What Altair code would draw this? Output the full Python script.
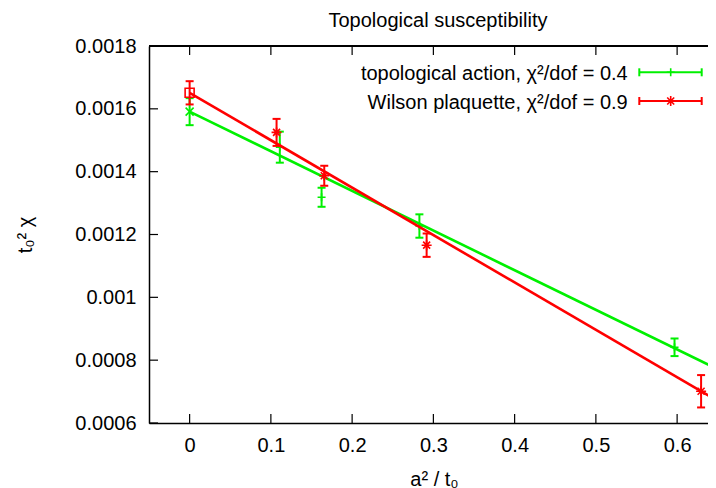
import altair as alt
import pandas as pd

FONT = "Liberation Sans"
GREEN = "#00f000"
RED = "#ff0000"

# ---- data ----
x_ticks = [0, 0.1, 0.2, 0.3, 0.4, 0.5, 0.6]
y_ticks = [0.0006, 0.0008, 0.001, 0.0012, 0.0014, 0.0016, 0.0018]

top_x = [0.111, 0.1624, 0.2828, 0.5968]
top_y = [0.001478, 0.0013185, 0.001227, 0.000841]
top_err = [0.0000494, 0.0000303, 0.0000372, 0.000028]

wil_x = [0.107, 0.1657, 0.2917, 0.6295]
wil_y = [0.001525, 0.001387, 0.001166, 0.000701]
wil_err = [0.000043, 0.0000318, 0.0000372, 0.0000515]

extrap_x = [0.0]
top_extrap_y = [0.001591]
top_extrap_err = [0.000043]
wil_extrap_y = [0.001651]
wil_extrap_err = [0.000037]

fit_x = [0.0, 0.65]
top_fit_y = [0.001591, 0.000771]
wil_fit_y = [0.001651, 0.000670]

title_text = ["Topological susceptibility"]
legend_labels = ["topological action, \u03c7\u00b2/dof = 0.4",
                 "Wilson plaquette, \u03c7\u00b2/dof = 0.9"]

# ---- tables ----
def err_table(xs, ys, es):
    return pd.DataFrame({"x": xs, "y": ys,
                         "lo": [a - b for a, b in zip(ys, es)],
                         "hi": [a + b for a, b in zip(ys, es)]})

df_top = err_table(top_x, top_y, top_err)
df_wil = err_table(wil_x, wil_y, wil_err)
df_top_ex = err_table(extrap_x, top_extrap_y, top_extrap_err)
df_wil_ex = err_table(extrap_x, wil_extrap_y, wil_extrap_err)
df_top_fit = pd.DataFrame({"x": fit_x, "y": top_fit_y})
df_wil_fit = pd.DataFrame({"x": fit_x, "y": wil_fit_y})
df_xt = pd.DataFrame({"x": x_ticks})
df_yt = pd.DataFrame({"y": y_ticks})
df_title = pd.DataFrame({"t": title_text})
df_leg1 = pd.DataFrame({"label": [legend_labels[0]]})
df_leg2 = pd.DataFrame({"label": [legend_labels[1]]})

W, H = 559, 377
xs = alt.Scale(domain=[-0.05, 0.638], nice=False, zero=False)
ys = alt.Scale(domain=[0.0006, 0.0018], nice=False, zero=False)

x_axis = alt.Axis(values=x_ticks, format="~f", ticks=False, grid=False,
                  domain=True, domainColor="black", domainWidth=1.5,
                  labelFont=FONT, labelFontSize=20, labelColor="black",
                  labelPadding=12,
                  title="a\u00b2 / t\u2080", titleFont=FONT, titleFontSize=20,
                  titleFontWeight="normal", titleColor="black",
                  titleX=285, titleY=62, titleBaseline="alphabetic",
                  titleAlign="center")
y_axis = alt.Axis(values=y_ticks, format="~f", ticks=False, grid=False,
                  domain=True, domainColor="black", domainWidth=1.5,
                  labelFont=FONT, labelFontSize=20, labelColor="black",
                  labelPadding=13,
                  title="t\u2080\u00b2 \u03c7", titleFont=FONT, titleFontSize=20,
                  titleFontWeight="normal", titleColor="black",
                  titleX=-124, titleY=188.5, titleAngle=270,
                  titleBaseline="middle", titleAlign="center")

def X(field="x"):
    return alt.X(f"{field}:Q", scale=xs, axis=x_axis)

def Y(field="y"):
    return alt.Y(f"{field}:Q", scale=ys, axis=y_axis)

CAP = "M-1,0L1,0"
PLUS = "M-1,0L1,0M0,-1L0,1"
STAR = "M-1,0L1,0M0,-1L0,1M-0.7,-0.7L0.7,0.7M-0.7,0.7L0.7,-0.7"
XMARK = "M-1,-1L1,1M-1,1L1,-1"

def series_layers(df, df_ex, df_fit, color, marker, marker_size, ex_shape, ex_size):
    layers = []
    layers.append(alt.Chart(df_fit).mark_line(color=color, strokeWidth=2.6, clip=True)
                  .encode(x=X(), y=Y()))
    for d in (df, df_ex):
        layers.append(alt.Chart(d).mark_rule(color=color, strokeWidth=2, clip=True)
                      .encode(x=X(), y=Y("lo"), y2="hi:Q"))
        for f in ("lo", "hi"):
            layers.append(alt.Chart(d).mark_point(shape=CAP, size=64, filled=False,
                                                  color=color, strokeWidth=2,
                                                  opacity=1, clip=True)
                          .encode(x=X(), y=Y(f)))
    layers.append(alt.Chart(df).mark_point(shape=marker, size=marker_size, filled=False,
                                           color=color, strokeWidth=1.6, opacity=1,
                                           clip=True)
                  .encode(x=X(), y=Y()))
    layers.append(alt.Chart(df_ex).mark_point(shape=ex_shape, size=ex_size, filled=False,
                                              color=color, strokeWidth=1.6, opacity=1,
                                              clip=True)
                  .encode(x=X(), y=Y()))
    return layers

green_layers = series_layers(df_top, df_top_ex, df_top_fit, GREEN, PLUS, 64, XMARK, 64)
red_layers = series_layers(df_wil, df_wil_ex, df_wil_fit, RED, STAR, 100, "square", 81)

# inward ticks and top border
tick_layers = [
    alt.Chart(df_xt).mark_rule(color="black", strokeWidth=1.2)
    .encode(x=X(), y=alt.value(H), y2=alt.value(H - 9)),
    alt.Chart(df_xt).mark_rule(color="black", strokeWidth=1.2)
    .encode(x=X(), y=alt.value(0), y2=alt.value(9)),
    alt.Chart(df_yt).mark_rule(color="black", strokeWidth=1.2)
    .encode(y=Y(), x=alt.value(0), x2=alt.value(9)),
    alt.Chart(df_xt).mark_rule(color="black", strokeWidth=1.5)
    .encode(x=alt.value(0), x2=alt.value(W), y=alt.value(0)),
]

# chart title as text above the plot
title_layer = alt.Chart(df_title).mark_text(
    align="center", baseline="alphabetic", font=FONT, fontSize=20, color="black"
).encode(text="t:N", x=alt.value(289), y=alt.value(-19))

# legend (key box, top right)
def legend_layers(df_lab, color, marker, marker_size, yc):
    x0, x1, xm = 490.3, 552.7, 521.7
    return [
        alt.Chart(df_lab).mark_text(align="right", baseline="alphabetic", font=FONT,
                                    fontSize=20, color="black")
        .encode(text="label:N", x=alt.value(478.7), y=alt.value(yc + 8)),
        alt.Chart(df_lab).mark_rule(color=color, strokeWidth=2)
        .encode(x=alt.value(x0), x2=alt.value(x1), y=alt.value(yc)),
        alt.Chart(df_lab).mark_rule(color=color, strokeWidth=2)
        .encode(x=alt.value(x0), y=alt.value(yc - 4), y2=alt.value(yc + 4)),
        alt.Chart(df_lab).mark_rule(color=color, strokeWidth=2)
        .encode(x=alt.value(x1), y=alt.value(yc - 4), y2=alt.value(yc + 4)),
        alt.Chart(df_lab).mark_point(shape=marker, size=marker_size, filled=False,
                                     color=color, strokeWidth=1.6, opacity=1)
        .encode(x=alt.value(xm), y=alt.value(yc)),
    ]

leg = legend_layers(df_leg1, GREEN, PLUS, 64, 26.3) + legend_layers(df_leg2, RED, STAR, 100, 55)

chart = alt.layer(*(tick_layers + green_layers + red_layers + leg + [title_layer])).properties(
    width=W, height=H,
    autosize=alt.AutoSizeParams(type="none"),
    padding={"left": 141, "top": 38, "right": 0, "bottom": 65},
).configure_view(stroke=None).configure(background="white")

chart.save("out.html", embed_options={"renderer": "svg", "actions": False})
